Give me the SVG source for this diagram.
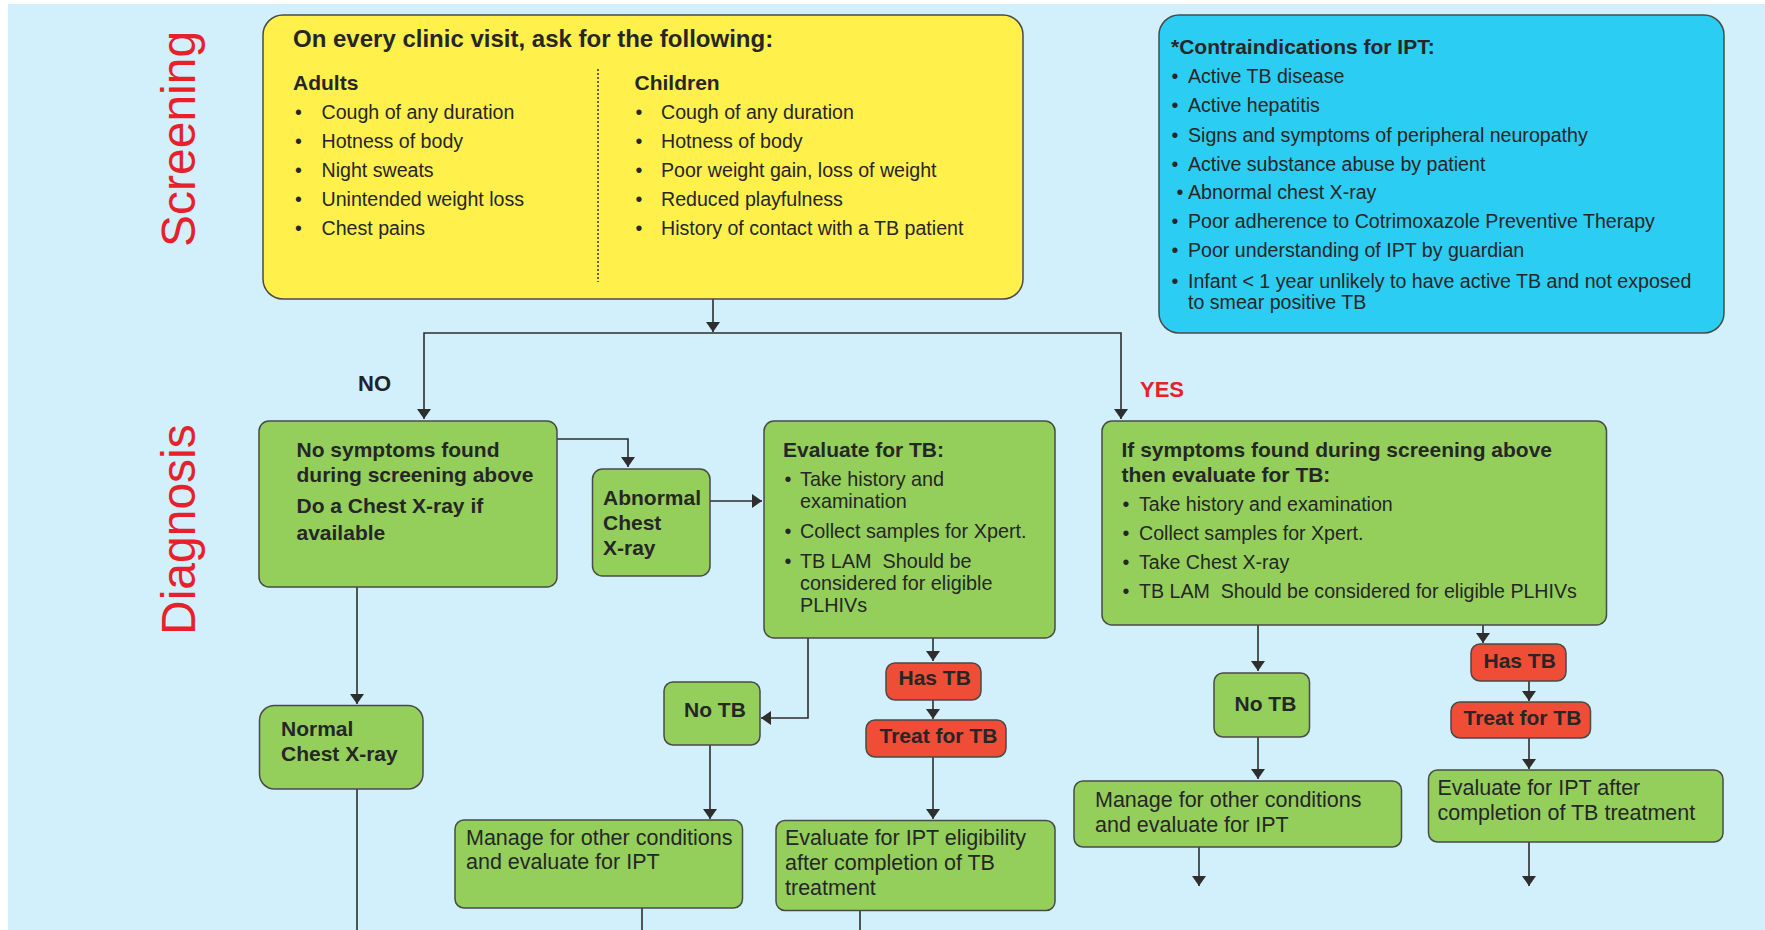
<svg xmlns="http://www.w3.org/2000/svg" width="1765" height="930" viewBox="0 0 1765 930">
<style>
text{font-family:"Liberation Sans",Arial,Helvetica,sans-serif;fill:#262626}
.b{font-weight:bold}
.h{font-size:21px;font-weight:bold}
.li{font-size:19.6px}
.lb{font-size:21.5px}
.bu{font-size:19.6px;text-anchor:middle}
.green{fill:#94cf5c;stroke:#4a4a4a;stroke-width:1.5}
.red{fill:#ef4d36;stroke:#4a4a4a;stroke-width:1.5}
.conn path{fill:none;stroke:#2e2e2e;stroke-width:1.6}
.lab{font-size:48px;fill:#e8202a}
</style>
<defs>
<marker id="ah" viewBox="0 0 10 14" markerWidth="10" markerHeight="14" refX="10" refY="7" orient="auto" markerUnits="userSpaceOnUse">
<path d="M0,0 L10,7 L0,14 z" fill="#2e2e2e"/>
</marker>
</defs>
<rect x="0" y="0" width="1765" height="930" fill="#ffffff"/>
<rect x="8" y="4" width="1757" height="926" fill="#d2f0fb"/>

<text class="lab" transform="translate(195,247) rotate(-90)">Screening</text>
<text class="lab" transform="translate(195,635) rotate(-90)">Diagnosis</text>

<g class="conn">
<path d="M713,299 V332" marker-end="url(#ah)"/>
<path d="M713,333 H424 V419" marker-end="url(#ah)"/>
<path d="M713,333 H1121 V419" marker-end="url(#ah)"/>
<path d="M557,439 H628 V467" marker-end="url(#ah)"/>
<path d="M710,501 H762" marker-end="url(#ah)"/>
<path d="M357,587 V704" marker-end="url(#ah)"/>
<path d="M357,789 V930"/>
<path d="M808,638 V718 H761" marker-end="url(#ah)"/>
<path d="M933,638 V661" marker-end="url(#ah)"/>
<path d="M933,700 V719" marker-end="url(#ah)"/>
<path d="M933,757 V819" marker-end="url(#ah)"/>
<path d="M710,745 V819" marker-end="url(#ah)"/>
<path d="M642,908 V930"/>
<path d="M860,911 V930"/>
<path d="M1258,625 V671" marker-end="url(#ah)"/>
<path d="M1483,625 V643" marker-end="url(#ah)"/>
<path d="M1258,737 V779" marker-end="url(#ah)"/>
<path d="M1199,847 V886" marker-end="url(#ah)"/>
<path d="M1529,681 V701" marker-end="url(#ah)"/>
<path d="M1529,738 V769" marker-end="url(#ah)"/>
<path d="M1529,842 V886" marker-end="url(#ah)"/>
</g>

<text class="b" x="358" y="391" font-size="22" style="fill:#22222e">NO</text>
<text class="b" x="1140" y="397" font-size="22" style="fill:#e8202a">YES</text>

<g id="screening">
<rect x="263" y="15" width="760" height="284" rx="20" fill="#fff04c" stroke="#4a4a4a" stroke-width="1.5"/>
<text class="b" x="293" y="47" font-size="24">On every clinic visit, ask for the following:</text>
<text class="h" x="293" y="90">Adults</text>
<g class="li">
<text class="bu" x="298.5" y="119">•</text><text x="321.5" y="119">Cough of any duration</text>
<text class="bu" x="298.5" y="148">•</text><text x="321.5" y="148">Hotness of body</text>
<text class="bu" x="298.5" y="177">•</text><text x="321.5" y="177">Night sweats</text>
<text class="bu" x="298.5" y="206">•</text><text x="321.5" y="206">Unintended weight loss</text>
<text class="bu" x="298.5" y="235">•</text><text x="321.5" y="235">Chest pains</text>
</g>
<line x1="598" y1="69" x2="598" y2="282" stroke="#333" stroke-width="1.5" stroke-dasharray="2,2"/>
<text class="h" x="634.5" y="90">Children</text>
<g class="li">
<text class="bu" x="639" y="119">•</text><text x="661" y="119">Cough of any duration</text>
<text class="bu" x="639" y="148">•</text><text x="661" y="148">Hotness of body</text>
<text class="bu" x="639" y="177">•</text><text x="661" y="177">Poor weight gain, loss of weight</text>
<text class="bu" x="639" y="206">•</text><text x="661" y="206">Reduced playfulness</text>
<text class="bu" x="639" y="235">•</text><text x="661" y="235">History of contact with a TB patient</text>
</g>
</g>

<g id="contraindications">
<rect x="1159" y="15" width="565" height="318" rx="20" fill="#2bcdf2" stroke="#4a4a4a" stroke-width="1.5"/>
<text class="h" x="1171" y="54">*Contraindications for IPT:</text>
<g class="li">
<text class="bu" x="1175" y="83">•</text><text x="1188" y="83">Active TB disease</text>
<text class="bu" x="1175" y="112">•</text><text x="1188" y="112">Active hepatitis</text>
<text class="bu" x="1175" y="141.5">•</text><text x="1188" y="141.5">Signs and symptoms of peripheral neuropathy</text>
<text class="bu" x="1175" y="170.5">•</text><text x="1188" y="170.5">Active substance abuse by patient</text>
<text class="bu" x="1180" y="199">•</text><text x="1188" y="199">Abnormal chest X-ray</text>
<text class="bu" x="1175" y="228">•</text><text x="1188" y="228">Poor adherence to Cotrimoxazole Preventive Therapy</text>
<text class="bu" x="1175" y="257">•</text><text x="1188" y="257">Poor understanding of IPT by guardian</text>
<text class="bu" x="1175" y="288">•</text><text x="1188" y="288">Infant &lt; 1 year unlikely to have active TB and not exposed</text>
<text x="1188" y="309">to smear positive TB</text>
</g>
</g>

<g id="no-symptoms">
<rect class="green" x="259" y="421" width="298" height="166" rx="10"/>
<text class="h" x="296.5" y="457">No symptoms found</text>
<text class="h" x="296.5" y="482">during screening above</text>
<text class="h" x="296.5" y="513">Do a Chest X-ray if</text>
<text class="h" x="296.5" y="540">available</text>
</g>

<g id="abnormal-cxr">
<rect class="green" x="592.5" y="469" width="117.5" height="107" rx="10"/>
<text class="h" x="603" y="505">Abnormal</text>
<text class="h" x="603" y="530">Chest</text>
<text class="h" x="603" y="555">X-ray</text>
</g>

<g id="evaluate-tb">
<rect class="green" x="764" y="421" width="291" height="217" rx="10"/>
<text class="h" x="783" y="457">Evaluate for TB:</text>
<g style="font-size:19.8px">
<text class="bu" x="788" y="486" style="font-size:19.8px">•</text><text x="800" y="486">Take history and</text>
<text x="800" y="508">examination</text>
<text class="bu" x="788" y="538" style="font-size:19.8px">•</text><text x="800" y="538">Collect samples for Xpert.</text>
<text class="bu" x="788" y="568" style="font-size:19.8px">•</text><text x="800" y="568" xml:space="preserve">TB LAM  Should be</text>
<text x="800" y="590">considered for eligible</text>
<text x="800" y="612">PLHIVs</text>
</g>
</g>

<g id="symptoms-found">
<rect class="green" x="1102" y="421" width="504.5" height="204" rx="10"/>
<text class="h" x="1121.5" y="457">If symptoms found during screening above</text>
<text class="h" x="1121.5" y="482">then evaluate for TB:</text>
<g class="li">
<text class="bu" x="1126" y="511">•</text><text x="1139" y="511">Take history and examination</text>
<text class="bu" x="1126" y="540">•</text><text x="1139" y="540">Collect samples for Xpert.</text>
<text class="bu" x="1126" y="569">•</text><text x="1139" y="569">Take Chest X-ray</text>
<text class="bu" x="1126" y="598">•</text><text x="1139" y="598" xml:space="preserve">TB LAM  Should be considered for eligible PLHIVs</text>
</g>
</g>

<g id="normal-cxr">
<rect class="green" x="259.5" y="705.5" width="163.5" height="83.5" rx="15"/>
<text class="h" x="281" y="736">Normal</text>
<text class="h" x="281" y="761">Chest X-ray</text>
</g>

<g id="no-tb-left">
<rect class="green" x="664" y="682" width="96" height="63" rx="9"/>
<text class="h" x="684" y="717">No TB</text>
</g>

<g id="has-tb-left">
<rect class="red" x="886" y="663" width="95" height="37" rx="9"/>
<text class="h" x="898.5" y="685">Has TB</text>
</g>

<g id="treat-tb-left">
<rect class="red" x="866" y="720" width="140" height="37" rx="9"/>
<text class="h" x="879.5" y="743">Treat for TB</text>
</g>

<g id="manage-left">
<rect class="green" x="455" y="820" width="287.5" height="88" rx="9"/>
<text class="lb" x="466" y="845">Manage for other conditions</text>
<text class="lb" x="466" y="869">and evaluate for IPT</text>
</g>

<g id="evaluate-ipt-left">
<rect class="green" x="776" y="820.5" width="279" height="90" rx="9"/>
<text class="lb" x="785" y="845">Evaluate for IPT eligibility</text>
<text class="lb" x="785" y="870">after completion of TB</text>
<text class="lb" x="785" y="895">treatment</text>
</g>

<g id="no-tb-right">
<rect class="green" x="1214" y="673" width="95.5" height="64" rx="9"/>
<text class="h" x="1234.5" y="711">No TB</text>
</g>

<g id="manage-right">
<rect class="green" x="1074" y="781" width="327.5" height="66" rx="9"/>
<text class="lb" x="1095" y="807">Manage for other conditions</text>
<text class="lb" x="1095" y="832">and evaluate for IPT</text>
</g>

<g id="has-tb-right">
<rect class="red" x="1471" y="644" width="95" height="37" rx="9"/>
<text class="h" x="1483.5" y="668">Has TB</text>
</g>

<g id="treat-tb-right">
<rect class="red" x="1451" y="702" width="139.5" height="36" rx="9"/>
<text class="h" x="1463.5" y="724.5">Treat for TB</text>
</g>

<g id="evaluate-ipt-right">
<rect class="green" x="1428.5" y="770" width="294.5" height="72" rx="9"/>
<text class="lb" x="1437.5" y="795">Evaluate for IPT after</text>
<text class="lb" x="1437.5" y="820">completion of TB treatment</text>
</g>
</svg>
